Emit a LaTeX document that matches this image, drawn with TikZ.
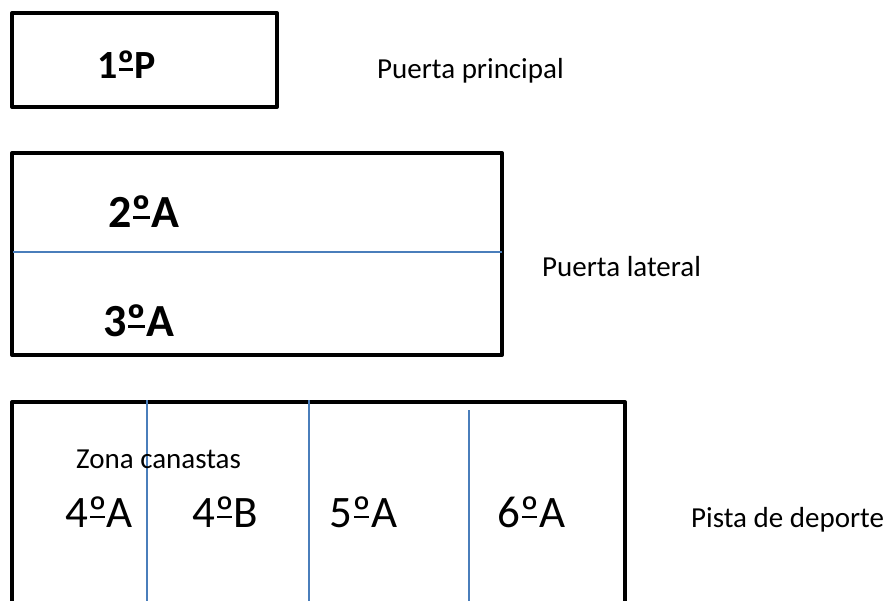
\documentclass[tikz,border=0pt]{standalone}
\usepackage{fontspec}
\setmainfont{Carlito}
\definecolor{divblue}{HTML}{4A7EBB}
\newcommand\ordu[1]{\leavevmode\setbox0\hbox{º}\rlap{\kern0.04em\rule[0.19em]{\dimexpr\wd0-0.08em\relax}{#1}}\box0}
\newcommand\ordr{\ordu{0.045em}}
\newcommand\ordb{\ordu{0.075em}}
\begin{document}
\begin{tikzpicture}[x=1pt,y=-1pt,
  boxline/.style={draw=black,line width=4pt,line join=round},
  divline/.style={draw=divblue,line width=1.5pt},
  bigbold/.style={anchor=base west,inner sep=0pt,font=\bfseries\fontsize{40}{40}\selectfont},
  bigbold2/.style={anchor=base west,inner sep=0pt,font=\bfseries\fontsize{46}{46}\selectfont},
  bigreg/.style={anchor=base west,inner sep=0pt,font=\fontsize{45}{45}\selectfont},
  label/.style={anchor=base west,inner sep=0pt,font=\fontsize{29}{29}\selectfont}]
\useasboundingbox (0,0) rectangle (886,601);
\clip (0,0) rectangle (886,601);
% box 1
\draw[boxline] (12,13) rectangle (277,107);
\node[bigbold] (p1) at (97,79) {1\ordb P};
\node[label] (lp) at (377,79) {Puerta principal};
% box 2
\draw[boxline] (12,153) rectangle (502,355);
\coordinate (d2a) at (13,252);
\coordinate (d2b) at (502,252);
\draw[divline] (d2a) -- (d2b);
\node[bigbold2] (a2) at (108,228) {2\ordb A};
\node[bigbold2] (a3) at (103,337) {3\ordb A};
\node[label] (ll) at (542,277) {Puerta lateral};
% box 3
\draw[boxline] (12,402) rectangle (625,640);
\coordinate (v1a) at (147,400); \coordinate (v1b) at (147,601);
\coordinate (v2a) at (309,400); \coordinate (v2b) at (309,601);
\coordinate (v3a) at (469,410); \coordinate (v3b) at (469,601);
\draw[divline] (v1a) -- (v1b);
\draw[divline] (v2a) -- (v2b);
\draw[divline] (v3a) -- (v3b);
\node[label] (zc) at (76,468) {Zona canastas};
\node[bigreg] (a4) at (65,527) {4\ordr A};
\node[bigreg] (b4) at (192,527) {4\ordr B};
\node[bigreg] (a5) at (329,527) {5\ordr A};
\node[bigreg] (a6) at (497,527) {6\ordr A};
\node[label] (pd) at (691,527) {Pista de deporte};
\end{tikzpicture}
\end{document}
